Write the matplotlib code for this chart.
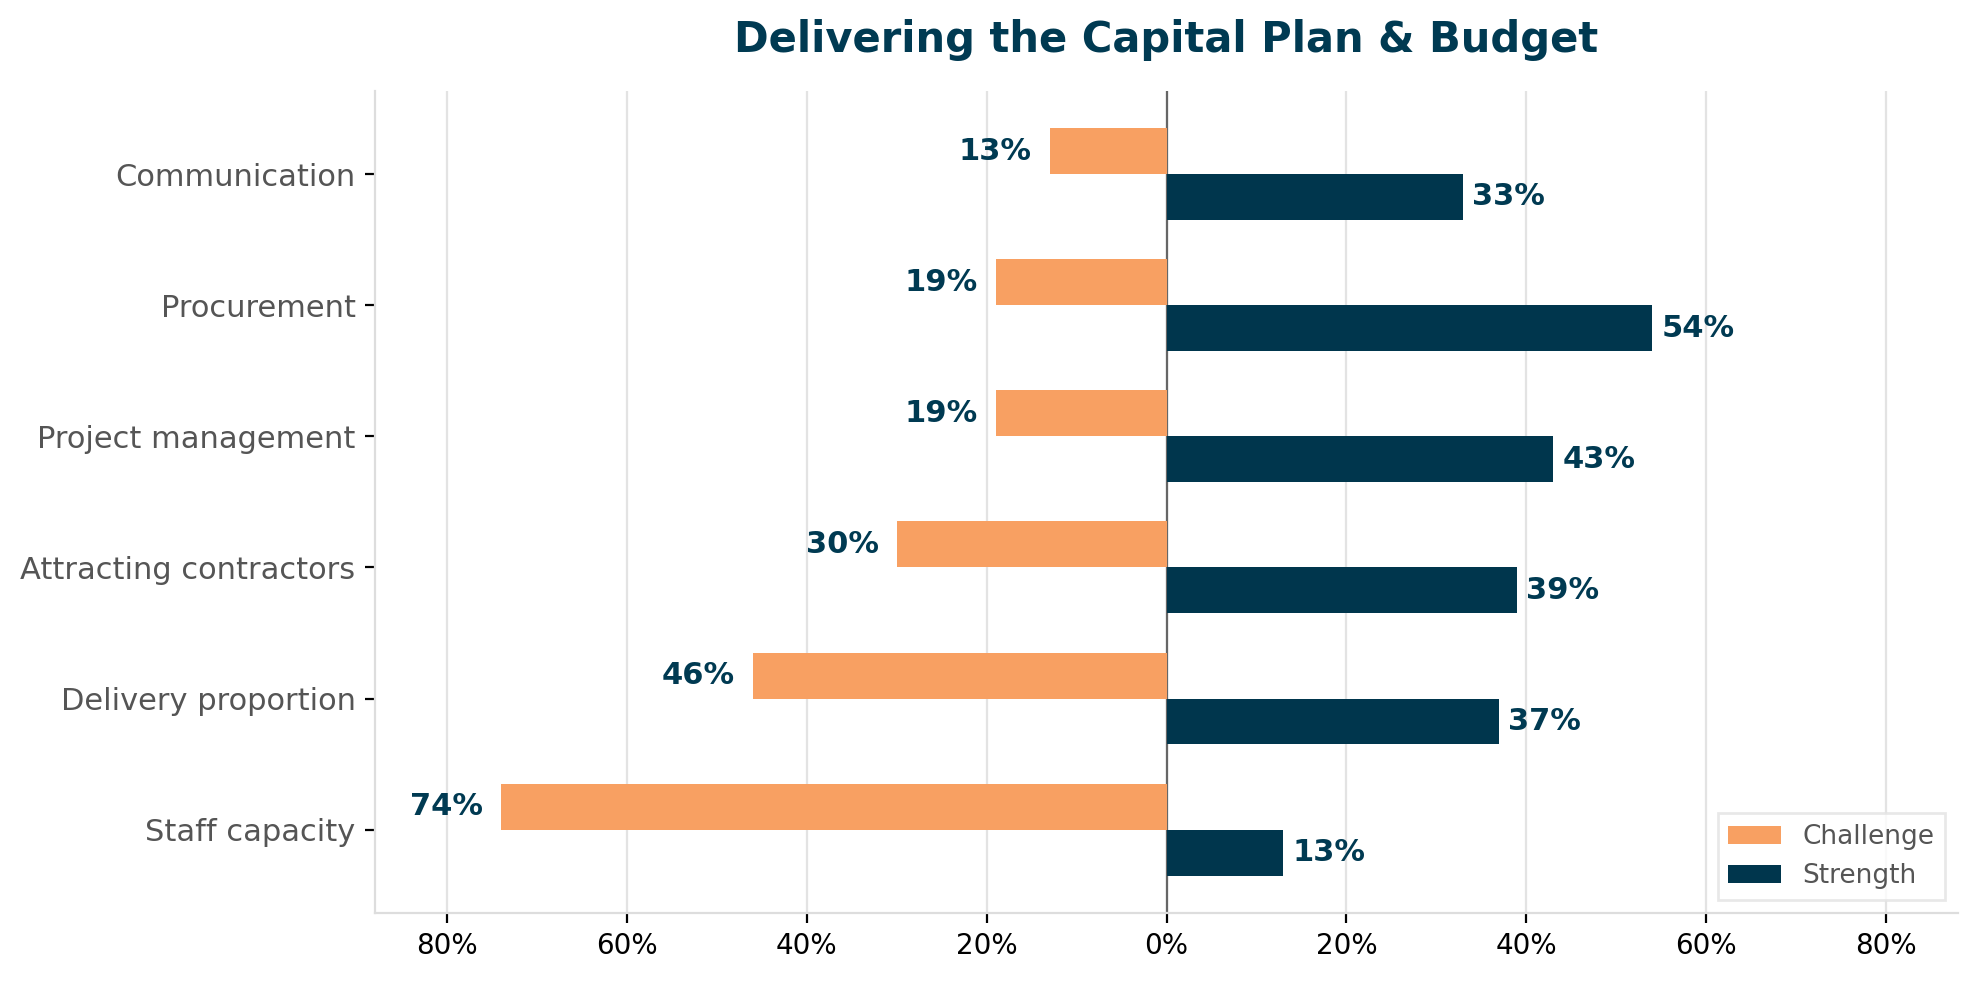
import matplotlib
matplotlib.use("Agg")
import matplotlib.pyplot as plt
import numpy as np

categories = ["Staff capacity", "Delivery proportion", "Attracting contractors",
              "Project management", "Procurement", "Communication"]
challenge = [74, 46, 30, 19, 19, 13]
strength = [13, 37, 39, 43, 54, 33]
xticks = [-80, -60, -40, -20, 0, 20, 40, 60, 80]
xticklabels = ["80%", "60%", "40%", "20%", "0%", "20%", "40%", "60%", "80%"]

ORANGE = "#F8A062"
NAVY = "#00364D"
TEXT_NAVY = "#003A52"

fig, ax = plt.subplots(figsize=(9.89, 4.905), dpi=200)
fig.subplots_adjust(left=0.1896, right=0.9899, top=0.9075, bottom=0.0694)

y = np.arange(len(categories))
h = 0.35
ax.barh(y + h / 2, [-v for v in challenge], height=h, color=ORANGE, label="Challenge", zorder=2)
ax.barh(y - h / 2, strength, height=h, color=NAVY, label="Strength", zorder=2)
ax.axvline(0, color="#666666", lw=0.8, zorder=1.5)

for yi, v in zip(y, challenge):
    ax.text(-v - 2, yi + h / 2, f"{v}%", ha="right", va="center", fontsize=11,
            fontweight="bold", color=TEXT_NAVY)
for yi, v in zip(y, strength):
    ax.text(v + 1, yi - h / 2, f"{v}%", ha="left", va="center", fontsize=11,
            fontweight="bold", color=TEXT_NAVY)

ax.set_yticks(y)
ax.set_yticklabels(categories, fontsize=11, color="#555555")
ax.set_xticks(xticks)
ax.set_xticklabels(xticklabels, fontsize=10)
ax.set_xlim(-88, 88)
ax.grid(axis="x", color="#E3E3E3", lw=0.8, zorder=0)
ax.set_axisbelow(True)
for s in ["top", "right"]:
    ax.spines[s].set_visible(False)
for s in ["left", "bottom"]:
    ax.spines[s].set_color("#DDDDDD")

ax.set_title("Delivering the Capital Plan & Budget", fontsize=15, fontweight="bold",
             color=TEXT_NAVY, pad=14)
leg = ax.legend(loc="lower right", fontsize=9.5, frameon=True, fancybox=False,
                edgecolor="#E3E3E3")
for t in leg.get_texts():
    t.set_color("#555555")

fig.savefig("out.png", dpi=200)
